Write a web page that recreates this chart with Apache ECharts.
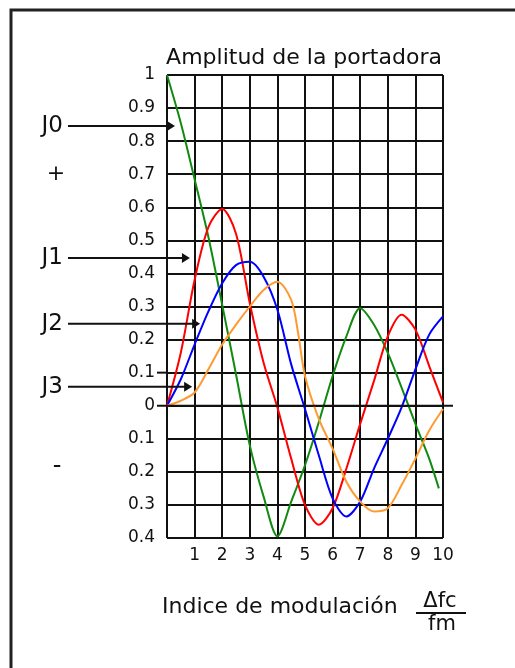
<!DOCTYPE html>
<html>
<head>
<meta charset="utf-8">
<script src="https://cdn.jsdelivr.net/npm/echarts@6/dist/echarts.min.js"></script>
<style>
  html, body { margin: 0; padding: 0; background: #ffffff; }
  #chart { width: 515px; height: 668px; }
</style>
</head>
<body>
<div id="chart"></div>
<script>
// Bessel-function amplitudes of carrier (J0) and side bands (J1..J3)
// versus modulation index, as [index, amplitude] pairs.
const j0 = [[0,1.0],[0.5,0.855],[1,0.685],[1.5,0.51],[2,0.305],[2.5,0.095],[3,-0.12],[3.5,-0.275],[4,-0.395],[4.5,-0.29],[5,-0.18],[5.5,-0.05],[6,0.09],[6.5,0.21],[7,0.295],[7.5,0.245],[8,0.16],[8.5,0.055],[9,-0.055],[9.5,-0.16],[9.85,-0.25]];
const j1 = [[0,0],[0.5,0.16],[1,0.38],[1.5,0.54],[2,0.595],[2.5,0.52],[3,0.31],[3.5,0.13],[4,-0.005],[4.5,-0.16],[5,-0.30],[5.5,-0.36],[6,-0.31],[6.5,-0.19],[7,-0.055],[7.5,0.075],[8,0.21],[8.5,0.275],[9,0.23],[9.5,0.12],[10,0.01]];
const j2 = [[0,0],[0.5,0.08],[1,0.185],[1.5,0.285],[2,0.37],[2.5,0.425],[3,0.435],[3.5,0.39],[4,0.29],[4.5,0.125],[5,-0.01],[5.5,-0.15],[6,-0.28],[6.5,-0.335],[7,-0.29],[7.5,-0.19],[8,-0.10],[8.5,-0.005],[9,0.11],[9.5,0.215],[10,0.27]];
const j3 = [[0,0],[0.5,0.015],[1,0.04],[1.5,0.11],[2,0.185],[2.5,0.245],[3,0.30],[3.5,0.35],[4,0.375],[4.5,0.32],[4.75,0.22],[5,0.09],[5.5,-0.04],[6,-0.13],[6.5,-0.23],[7,-0.29],[7.5,-0.32],[8,-0.31],[8.5,-0.24],[9,-0.16],[9.5,-0.075],[10,-0.01]];

const seriesNames = ['J0', 'J1', 'J2', 'J3'];
const seriesColors = ['#108a10', '#ff0000', '#0000ff', '#ff9a30'];

// Axis tick labels: magnitudes only, the sign is given by the +/- marks
const xTickLabels = ['', '1', '2', '3', '4', '5', '6', '7', '8', '9', '10'];
const yTickLabels = ['0.4', '0.3', '0.2', '0.1', '0', '0.1', '0.2', '0.3', '0.4', '0.5', '0.6', '0.7', '0.8', '0.9', '1'];

const titleText = 'Amplitud de la portadora';
const xAxisText = 'Indice de modulación';
const fracTop = 'Δfc';
const fracBottom = 'fm';

// Where each curve label's arrow points, in [index, amplitude]
const arrowTargets = [[0.29, 0.846], [0.83, 0.447], [1.2, 0.248], [0.91, 0.057]];

const FONT = '"DejaVu Sans", Verdana, sans-serif';
const INK = '#111111';

const chart = echarts.init(document.getElementById('chart'), null, { renderer: 'canvas' });

const option = {
  backgroundColor: '#ffffff',
  animation: false,
  grid: { left: 167, top: 75, width: 276, height: 463, containLabel: false },
  xAxis: {
    type: 'value', min: 0, max: 10, interval: 1,
    axisLine: { show: false },
    axisTick: { show: false },
    splitLine: { show: true, showMinLine: true, showMaxLine: true, lineStyle: { color: INK, width: 2 } },
    axisLabel: {
      margin: 9, color: INK, fontFamily: FONT, fontSize: 17,
      formatter: v => xTickLabels[Math.round(v)] || ''
    }
  },
  yAxis: {
    type: 'value', min: -0.4, max: 1, interval: 0.1,
    axisLine: { show: false },
    axisTick: { show: false },
    splitLine: { show: true, showMinLine: true, showMaxLine: true, lineStyle: { color: INK, width: 2 } },
    axisLabel: {
      margin: 12, color: INK, fontFamily: FONT, fontSize: 17,
      formatter: v => yTickLabels[Math.round((v + 0.4) * 10)] || ''
    }
  },
  series: [j0, j1, j2, j3].map((d, i) => ({
    name: seriesNames[i],
    type: 'line',
    data: d,
    smooth: 0.3,
    showSymbol: false,
    clip: false,
    lineStyle: { color: seriesColors[i], width: 2 },
    z: 3 + i
  }))
};
chart.setOption(option);

function px(x, y) { return chart.convertToPixel({ gridIndex: 0 }, [x, y]); }

const elements = [];

// outer frame
elements.push({ type: 'rect', shape: { x: 11, y: 10, width: 530, height: 700 },
  style: { fill: 'none', stroke: '#222222', lineWidth: 3 }, z: 10 });

// zero axis, extended past both sides of the plot
const z0 = px(0, 0), z10 = px(10, 0), p01 = px(0, 0.1);
elements.push({ type: 'line', shape: { x1: z0[0] - 10, y1: z0[1], x2: z10[0] + 10, y2: z10[1] },
  style: { stroke: INK, lineWidth: 2 }, z: 10 });
elements.push({ type: 'line', shape: { x1: p01[0] - 10, y1: p01[1], x2: p01[0], y2: p01[1] },
  style: { stroke: INK, lineWidth: 2 }, z: 10 });

// title
const tl = px(0, 1), tr = px(10, 1);
elements.push({ type: 'text', z: 10, style: {
  text: titleText, x: (tl[0] + tr[0]) / 2 - 1, y: tl[1] - 17,
  font: '22px ' + FONT, fill: INK, textAlign: 'center', textVerticalAlign: 'middle' } });

// x axis caption with the delta-f / fm fraction
elements.push({ type: 'text', z: 10, style: {
  text: xAxisText, x: 162, y: 607,
  font: '22px ' + FONT, fill: INK, textAlign: 'left', textVerticalAlign: 'middle' } });
elements.push({ type: 'text', z: 10, style: {
  text: fracTop, x: 440, y: 602,
  font: '21px ' + FONT, fill: INK, textAlign: 'center', textVerticalAlign: 'middle' } });
elements.push({ type: 'line', z: 10, shape: { x1: 416, y1: 613, x2: 466, y2: 613 },
  style: { stroke: INK, lineWidth: 2 } });
elements.push({ type: 'text', z: 10, style: {
  text: fracBottom, x: 442, y: 625,
  font: '21px ' + FONT, fill: INK, textAlign: 'center', textVerticalAlign: 'middle' } });

// curve labels with arrows
arrowTargets.forEach((t, i) => {
  const tip = px(t[0], t[1]);
  const y = tip[1];
  elements.push({ type: 'text', z: 10, style: {
    text: seriesNames[i], x: 63, y: y,
    font: '23px ' + FONT, fill: INK, textAlign: 'right', textVerticalAlign: 'middle' } });
  elements.push({ type: 'line', z: 11, shape: { x1: 68, y1: y, x2: tip[0] - 6, y2: y },
    style: { stroke: INK, lineWidth: 2 } });
  elements.push({ type: 'polygon', z: 11, shape: { points: [[tip[0], y], [tip[0] - 8, y - 5], [tip[0] - 8, y + 5]] },
    style: { fill: INK } });
});

// sign marks for the positive and negative halves
elements.push({ type: 'text', z: 10, style: {
  text: '+', x: 56, y: px(0, 0.7)[1],
  font: '22px ' + FONT, fill: INK, textAlign: 'center', textVerticalAlign: 'middle' } });
elements.push({ type: 'text', z: 10, style: {
  text: '-', x: 57, y: px(0, -0.185)[1],
  font: '24px ' + FONT, fill: INK, textAlign: 'center', textVerticalAlign: 'middle' } });

chart.setOption({ graphic: { elements: elements } });
</script>
</body>
</html>
